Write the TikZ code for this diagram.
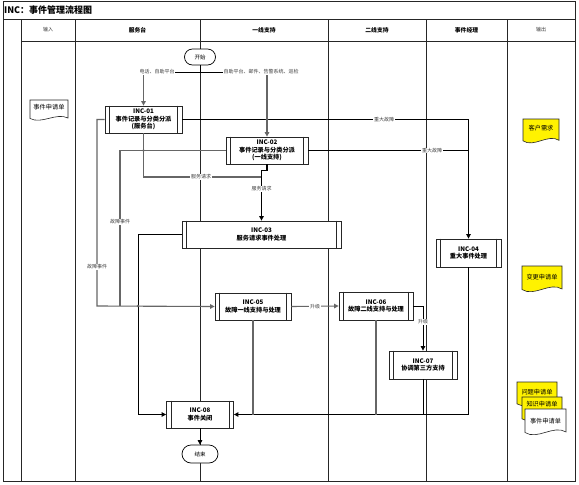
\documentclass[tikz,border=0pt]{standalone}
\usepackage{fontspec}
\setmainfont{Noto Sans CJK SC}
\usetikzlibrary{arrows.meta,calc}
\newcommand\docshape[5]{%
  \draw[black!85,line width=0.6pt,fill=#5] (#1,#2) -- (#1+#3,#2) -- (#1+#3,#2+0.82*#4)
    .. controls (#1+0.7*#3,#2+0.55*#4) and (#1+0.3*#3,#2+1.12*#4) .. (#1,#2+0.84*#4) -- cycle;}
\begin{document}
\begin{tikzpicture}[x=1pt,y=-1pt,
  lane/.style={line width=0.9pt,black!85},
  proc/.style={draw=black!85,line width=0.8pt,fill=white,minimum height=27pt,inner sep=0pt,align=center,font=\fontsize{6.2}{7.6}\selectfont\bfseries},
  term/.style={draw=black,line width=0.7pt,fill=white,rounded corners=8pt,minimum width=31pt,minimum height=16pt,inner sep=0pt,font=\fontsize{5.5}{6}\selectfont},
  gconn/.style={line width=1.1pt,black!60},
  bconn/.style={line width=0.8pt,black},
  arr/.style={-{Triangle[length=4.5pt,width=4.5pt]}},
  lbl/.style={fill=white,inner sep=0.6pt,font=\fontsize{5}{5}\selectfont,text=black!75},
  hdr/.style={font=\fontsize{5.8}{6}\selectfont\bfseries},
  hdrn/.style={font=\fontsize{5}{6}\selectfont,text=black!80},
  doctext/.style={font=\fontsize{6.2}{6.5}\selectfont,inner sep=0pt},
]
\useasboundingbox (0,0) rectangle (579,485);
\fill[white] (0,0) rectangle (579,485);
% frame and lanes
\draw[lane] (3,1) rectangle (575,481);
\draw[lane] (3,19) -- (575,19);
\draw[lane] (21,41) -- (575,41);
\foreach \x in {21,75,200,328,426,507} \draw[lane] (\x,19) -- (\x,481);
\node[anchor=west,font=\fontsize{9}{10}\selectfont\bfseries,inner sep=0pt] (title) at (4,10) {INC：事件管理流程图};
\node[hdrn] (h1) at (48,30) {输入};
\node[hdr] (h2) at (137.5,30) {服务台};
\node[hdr] (h3) at (264,30) {一线支持};
\node[hdr] (h4) at (377,30) {二线支持};
\node[hdr] (h5) at (466.5,30) {事件经理};
\node[hdrn] (h6) at (541,30) {输出};

% nodes
\node[term] (start) at (200,57) {开始};
\node[term,minimum width=36pt,minimum height=18pt,rounded corners=9pt] (stop) at (200,454) {结束};
\node[proc,minimum width=77pt] (inc1) at (143.5,119.5) {INC-01\\事件记录与分类分派\\(服务台)};
\node[proc,minimum width=82pt] (inc2) at (267,150.5) {INC-02\\事件记录与分类分派\\(一线支持)};
\node[proc,minimum width=159pt] (inc3) at (261.5,234.5) {INC-03\\服务请求事件处理};
\node[proc,minimum width=65pt,minimum height=28pt] (inc4) at (468.5,253) {INC-04\\重大事件处理};
\node[proc,minimum width=76pt] (inc5) at (253,306.5) {INC-05\\故障一线支持与处理};
\node[proc,minimum width=74pt,minimum height=28pt] (inc6) at (376,306) {INC-06\\故障二线支持与处理};
\node[proc,minimum width=68pt,minimum height=28pt] (inc7) at (423,365) {INC-07\\协调第三方支持};
\node[proc,minimum width=67pt] (inc8) at (200,414.5) {INC-08\\事件关闭};
\foreach \n in {inc1,inc2,inc3,inc4,inc5,inc6,inc7,inc8}{
  \draw[black!85,line width=0.7pt] ([xshift=5pt]\n.north west) -- ([xshift=5pt]\n.south west);
  \draw[black!85,line width=0.7pt] ([xshift=-5pt]\n.north east) -- ([xshift=-5pt]\n.south east);
}

% coordinates
\coordinate (sp) at (200,72);
\coordinate (f1) at (120,306);
\coordinate (f2) at (97,306);
\coordinate (c8) at (138,414.5);
\coordinate (j3) at (261.5,177);

% connectors from start
\draw[bconn] (start.south) -- (sp);
\draw[bconn] (sp) -- (sp -| inc1.north);
\draw[bconn] (sp) -- (sp -| inc2.north);
\draw[gconn,arr] (sp -| inc1.north) -- (inc1.north);
\draw[gconn,arr] (sp -| inc2.north) -- (inc2.north);
\node[lbl] (l1) at (157,72) {电话、自助平台};
\node[lbl] (l2) at (261,72) {自助平台、邮件、告警系统、巡检};

% major incident
\draw[bconn,arr] (inc1.east) -| (inc4.north);
\draw[bconn] (inc2.east) -- (inc2.east -| inc4.north);
\node[lbl] (l3) at (384,119.5) {重大故障};
\node[lbl] (l4) at (432,150.5) {重大故障};

% service request
\draw[gconn] (inc1.south) |- (j3);
\draw[bconn,line width=1.1pt,arr] (inc2.south) -- ++(0,6) -| (inc3.north);
\node[lbl] (l5) at (201,177) {服务请求};
\node[lbl] (l6) at (261.5,189) {服务请求};

% fault events
\draw[gconn] (inc2.west) -| (f1);
\draw[gconn,arr] (inc1.west) -| (f2) -- (inc5.west);
\node[lbl] (l7) at (120,222) {故障事件};
\node[lbl] (l8) at (97,267) {故障事件};

% INC-03 to close
\draw[bconn,arr] (inc3.west) -| (c8) -- (inc8.west);

% escalation
\draw[gconn,arr] (inc5.east) -- (inc6.west) node[lbl,midway] (l9) {升级};
\draw[bconn,arr] (inc6.east) -| (inc7.north);
\node[lbl] (l10) at (423,322) {升级};

% merge to close
\draw[bconn,line width=1.1pt,arr] (inc4.south) |- (inc8.east);
\draw[gconn] (inc5.south) -- (inc5.south |- inc8.east);
\draw[gconn] (inc6.south) -- (inc6.south |- inc8.east);
\draw[bconn] (inc7.south) -- (inc7.south |- inc8.east);
\draw[bconn,arr] (inc8.south) -- (stop.north);

% jump dots
\fill[black!60] (inc2.north |- inc1.east) circle (1.3pt);
\fill[black!60] (inc1.south |- inc2.west) circle (1.3pt);
\fill[black!60] (c8 |- f1) circle (1.3pt);

% documents
\docshape{30}{100}{38}{22}{white}
\node[doctext] (d1) at (49,107.5) {事件申请单};
\docshape{523}{119}{36}{26}{yellow}
\node[doctext] (d2) at (541,128) {客户需求};
\docshape{522}{266}{40}{28}{yellow}
\node[doctext] (d3) at (542,277) {变更申请单};
\docshape{517}{382}{40}{26}{yellow}
\node[doctext] (d4) at (537,392) {问题申请单};
\docshape{522}{397}{40}{26}{yellow}
\node[doctext] (d5) at (542,404.5) {知识申请单};
\docshape{525}{409}{41}{28}{white}
\node[doctext] (d6) at (545.5,421) {事件申请单};
\end{tikzpicture}
\end{document}
